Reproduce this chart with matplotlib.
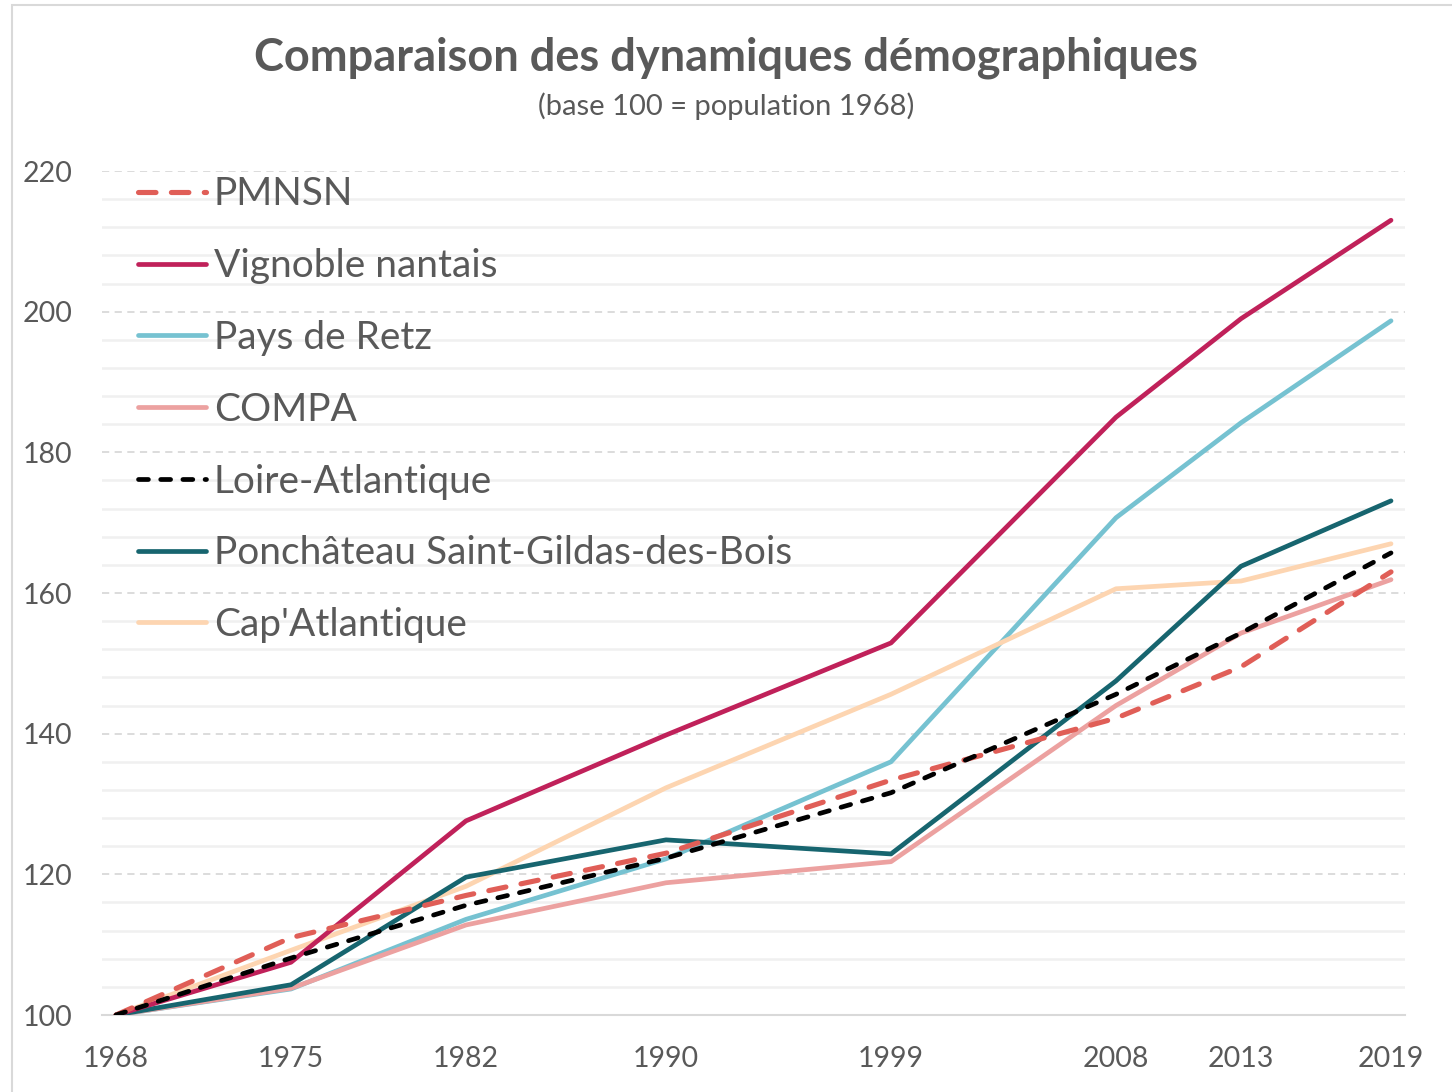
import matplotlib.pyplot as plt
from matplotlib.patches import Rectangle

years = [1968, 1975, 1982, 1990, 1999, 2008, 2013, 2019]

pmnsn = [100, 111.0, 117.0, 123.0, 133.4, 142.2, 149.5, 163.0]
vignoble = [100, 107.5, 127.6, 139.8, 152.9, 185.0, 199.0, 213.0]
pays_retz = [100, 103.7, 113.6, 122.2, 136.0, 170.7, 184.2, 198.7]
compa = [100, 103.8, 112.8, 118.8, 121.8, 144.0, 154.3, 161.9]
loire_atl = [100, 108.1, 115.6, 122.3, 131.6, 145.6, 154.3, 165.7]
ponchateau = [100, 104.3, 119.6, 124.9, 122.9, 147.5, 163.8, 173.1]
cap_atl = [100, 109.2, 118.3, 132.3, 145.6, 160.6, 161.7, 167.0]

series_names = ["PMNSN", "Vignoble nantais", "Pays de Retz", "COMPA",
                "Loire-Atlantique", "Ponchâteau Saint-Gildas-des-Bois", "Cap'Atlantique"]

plt.rcParams['font.family'] = ['Lato', 'DejaVu Sans']
txt = '#595959'

fig = plt.figure(figsize=(14.52, 10.92), dpi=100)
ax = fig.add_axes([102/1452, 77/1092, 1303/1452, 844/1092])

# fine grid every 4, dashed major grid every 20
for v in range(104, 221, 4):
    if v % 20 == 0:
        ax.axhline(v, color='#d9d9d9', lw=1.3, ls=(0, (4, 3)), zorder=0)
    else:
        ax.axhline(v, color='#f0f0f0', lw=1.8, zorder=0)

styles = [
    (pmnsn, '#e05e57', (0, (3.4, 3.0)), 3.7),
    (vignoble, '#c0215a', '-', 3.4),
    (pays_retz, '#76c2d1', '-', 3.4),
    (compa, '#eca1a0', '-', 3.4),
    (loire_atl, '#000000', (0, (2.1, 2.6)), 3.4),
    (ponchateau, '#17656f', '-', 3.4),
    (cap_atl, '#fdd5b1', '-', 3.4),
]
draw_order = [2, 6, 3, 5, 1, 0, 4]
lines = {}
for i in draw_order:
    vals, col, ls, lw = styles[i]
    ln, = ax.plot(years, vals, color=col, ls=ls, lw=lw, solid_capstyle='round',
                  dash_capstyle='round', label=series_names[i], zorder=3)
    lines[i] = ln

ax.set_xlim(1967.44, 2019.56)
ax.set_ylim(100, 220)
ax.set_xticks(years)
ax.set_xticklabels([str(y) for y in years])
ax.set_yticks(range(100, 221, 20))
ax.tick_params(length=0, labelsize=20.5, colors=txt)
ax.tick_params(axis='x', pad=22)
ax.tick_params(axis='y', pad=21)
for s in ['top', 'right', 'left']:
    ax.spines[s].set_visible(False)
ax.spines['bottom'].set_color('#d9d9d9')
ax.spines['bottom'].set_linewidth(1.5)

leg = ax.legend([lines[i] for i in range(7)], series_names, loc='upper left',
                bbox_to_anchor=(0.0157, 1.012), frameon=False, fontsize=28,
                handlelength=1.75, handletextpad=0.2, labelspacing=0.92,
                borderaxespad=0.0)
for t in leg.get_texts():
    t.set_color(txt)

fig.text(0.5, 1 - 58/1092, "Comparaison des dynamiques démographiques", ha='center',
         va='center', fontsize=32.5, fontweight='bold', color=txt)
fig.text(0.5, 1 - 106/1092, "(base 100 = population 1968)", ha='center', va='center',
         fontsize=21, color=txt)

fig.patches.append(Rectangle((12/1452, -0.05), 1.1, 1 - 5/1092 + 0.05,
                             transform=fig.transFigure, fill=False,
                             edgecolor='#d9d9d9', lw=1.5))

fig.savefig('out.png', dpi=100)
